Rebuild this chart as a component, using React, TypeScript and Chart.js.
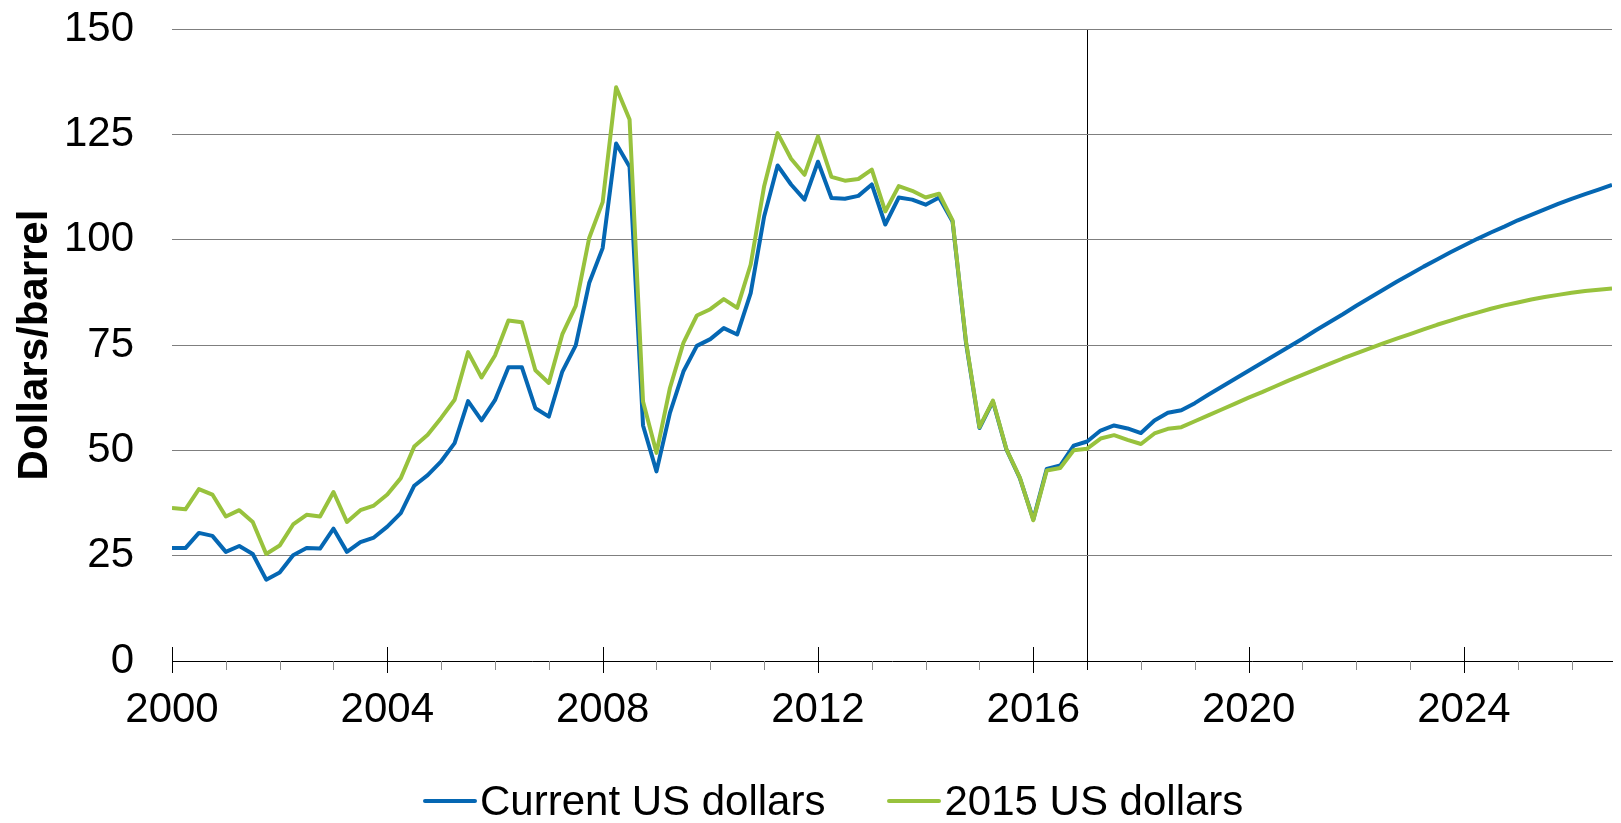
import React, { useEffect, useRef } from "react";
import { Chart, registerables } from "chart.js";

Chart.register(...registerables);

const FONT = '"Liberation Sans", Arial, Helvetica, sans-serif';

// Quarterly categories 2000 Q1 .. 2026 Q4
const firstYear = 2000;
const lastYear = 2026;
const categories: string[] = [];
for (let y = firstYear; y <= lastYear; y++) {
  for (let q = 1; q <= 4; q++) categories.push(`${y} Q${q}`);
}

// Crude oil price, current US dollars / barrel (quarterly)
const currentUSD: number[] = [
  26.8, 26.8, 30.4, 29.7, // 2000
  25.9, 27.3, 25.4, 19.3, // 2001
  21.0, 25.1, 26.8, 26.7, // 2002
  31.4, 25.9, 28.2, 29.3, // 2003
  31.9, 35.1, 41.6, 44.1, // 2004
  47.4, 51.7, 61.7, 57.1, // 2005
  61.9, 69.7, 69.7, 60.0, // 2006
  58.0, 68.7, 74.9, 89.7, // 2007
  98.0, 122.8, 117.3, 55.9, // 2008
  45.0, 58.9, 68.7, 74.8, // 2009
  76.4, 79.0, 77.5, 87.3, // 2010
  105.5, 117.6, 113.1, 109.5, // 2011
  118.5, 109.9, 109.7, 110.4, // 2012
  113.1, 103.6, 110.0, 109.5, // 2013
  108.3, 110.0, 104.3, 75.5, // 2014
  55.3, 61.6, 50.2, 43.4, // 2015
  33.6, 45.6, 46.4, 51.1, // 2016
  52.1, 54.7, 55.9, 55.2, // 2017
  54.1, 57.1, 58.9, 59.5, // 2018
  61.2, 63.2, 65.1, 67.0, // 2019
  68.9, 70.8, 72.7, 74.6, // 2020
  76.5, 78.5, 80.4, 82.3, // 2021
  84.3, 86.2, 88.1, 90.0, // 2022
  91.8, 93.6, 95.3, 97.0, // 2023
  98.6, 100.2, 101.7, 103.1, // 2024
  104.6, 105.9, 107.2, 108.5, // 2025
  109.7, 110.8, 111.9, 113.0, // 2026
];

// Crude oil price, constant 2015 US dollars / barrel (quarterly)
const constant2015USD: number[] = [
  36.3, 36.0, 40.8, 39.5, // 2000
  34.3, 35.8, 33.0, 25.4, // 2001
  27.4, 32.4, 34.7, 34.3, // 2002
  40.1, 33.0, 35.8, 36.9, // 2003
  39.5, 43.4, 50.9, 53.7, // 2004
  57.7, 62.0, 73.3, 67.3, // 2005
  72.5, 80.8, 80.4, 69.0, // 2006
  66.0, 77.5, 84.3, 100.4, // 2007
  108.9, 136.2, 128.5, 61.6, // 2008
  49.4, 64.8, 75.5, 82.0, // 2009
  83.5, 85.9, 83.8, 94.1, // 2010
  112.7, 125.3, 119.2, 115.4, // 2011
  124.5, 114.9, 114.0, 114.4, // 2012
  116.6, 106.7, 112.7, 111.6, // 2013
  110.0, 110.9, 104.6, 75.8, // 2014
  55.5, 61.8, 50.3, 43.5, // 2015
  33.4, 45.2, 45.8, 50.0, // 2016
  50.4, 52.8, 53.6, 52.5, // 2017
  51.5, 54.0, 55.1, 55.5, // 2018
  56.9, 58.3, 59.7, 61.1, // 2019
  62.5, 63.8, 65.2, 66.6, // 2020
  67.9, 69.2, 70.5, 71.8, // 2021
  73.0, 74.2, 75.4, 76.5, // 2022
  77.6, 78.7, 79.8, 80.8, // 2023
  81.8, 82.7, 83.6, 84.4, // 2024
  85.1, 85.8, 86.4, 86.9, // 2025
  87.4, 87.8, 88.1, 88.4, // 2026
];

const yTickValues = [0, 25, 50, 75, 100, 125, 150];
const xLabelYears = [2000, 2004, 2008, 2012, 2016, 2020, 2024];
const forecastStartYear = 2017;
const seriesNames = ["Current US dollars", "2015 US dollars"];
const seriesColors = ["#0567b3", "#98c23d"];
const yAxisTitle = "Dollars/barrel";

function categoryToX(label: string): number {
  const [y, q] = label.split(" Q");
  return Number(y) + (Number(q) - 1) / 4;
}

const tickMarksPlugin = {
  id: "tickMarks",
  afterDraw(chart: any) {
    const s = chart.scales.x;
    const ctx = chart.ctx;
    const y0 = Math.round(s.top);
    ctx.save();
    ctx.lineWidth = 1;
    s.ticks.forEach((t: any) => {
      const v = t.value;
      const px = Math.round(s.getPixelForValue(v)) + 0.5;
      let top = y0;
      let bottom = y0 + 9;
      let color = "#8c8c8c";
      if (xLabelYears.includes(v)) {
        top = y0 - 14;
        bottom = y0 + 12;
        color = "#000000";
      } else if (v === forecastStartYear) {
        color = "#000000";
      }
      ctx.strokeStyle = color;
      ctx.beginPath();
      ctx.moveTo(px, top);
      ctx.lineTo(px, bottom);
      ctx.stroke();
    });
    ctx.restore();
  },
};

export default function App() {
  const canvasRef = useRef<HTMLCanvasElement | null>(null);

  useEffect(() => {
    if (!canvasRef.current) return;
    const series = [currentUSD, constant2015USD];
    const chart = new Chart(canvasRef.current, {
      type: "line",
      data: {
        datasets: series.map((vals, i) => ({
          label: seriesNames[i],
          data: categories.map((c, k) => ({ x: categoryToX(c), y: vals[k] })),
          borderColor: seriesColors[i],
          backgroundColor: seriesColors[i],
          borderWidth: 4,
          pointRadius: 0,
          pointHoverRadius: 0,
          tension: 0,
          fill: false,
          borderJoinStyle: "round",
          order: i === 0 ? 1 : 0,
        })),
      },
      options: {
        responsive: false,
        animation: false,
        devicePixelRatio: 1,
        layout: { padding: { left: 0, top: 29, right: 9, bottom: 0 } },
        plugins: {
          legend: { display: false },
          tooltip: { enabled: false },
        },
        scales: {
          x: {
            type: "linear",
            min: 2000,
            max: 2026.75,
            afterFit: (s: any) => {
              s.height = 162;
              s.paddingLeft = 0;
              s.paddingRight = 0;
            },
            border: { display: true, color: "#000000", width: 1 },
            grid: {
              drawTicks: false,
              lineWidth: 1,
              color: (ctx: any) =>
                ctx.tick && ctx.tick.value === forecastStartYear ? "#000000" : "rgba(0,0,0,0)",
            },
            ticks: {
              stepSize: 1,
              includeBounds: false,
              autoSkip: false,
              maxRotation: 0,
              minRotation: 0,
              padding: 24,
              color: "#000000",
              font: { family: FONT, size: 42 },
              callback: (v: any) => (xLabelYears.includes(Number(v)) ? String(v) : ""),
            },
          },
          y: {
            min: 0,
            max: 150,
            afterFit: (s: any) => {
              s.width = 172;
              s.paddingTop = 0;
              s.paddingBottom = 0;
            },
            border: { display: false },
            grid: {
              drawTicks: false,
              lineWidth: 1,
              color: (ctx: any) =>
                ctx.tick && ctx.tick.value === 0 ? "rgba(0,0,0,0)" : "#7f7f7f",
            },
            ticks: {
              stepSize: 25,
              padding: 38,
              color: "#000000",
              font: { family: FONT, size: 42 },
              callback: (v: any) => (yTickValues.includes(Number(v)) ? String(v) : ""),
            },
            title: {
              display: true,
              text: yAxisTitle,
              color: "#000000",
              font: { family: FONT, size: 42, weight: "bold" },
              padding: { top: 10, bottom: 0 },
            },
          },
        },
      },
      plugins: [tickMarksPlugin],
    } as any);
    return () => chart.destroy();
  }, []);

  return (
    <>
      <canvas
        ref={canvasRef}
        width={1621}
        height={823}
        style={{ position: "absolute", left: 0, top: 0, width: 1621, height: 823, display: "block" }}
      />
      <div
        style={{
          position: "absolute",
          left: 423,
          top: 780,
          display: "flex",
          alignItems: "center",
          fontFamily: FONT,
          fontSize: 42,
          lineHeight: "42px",
          color: "#000000",
          whiteSpace: "nowrap",
        }}
      >
        {seriesNames.map((name, i) => (
          <div
            key={name}
            style={{ display: "flex", alignItems: "center", marginRight: i === 0 ? 62 : 0 }}
          >
            <span
              style={{
                display: "inline-block",
                width: 54,
                height: 4,
                background: seriesColors[i],
                borderRadius: 2,
                marginRight: 3,
              }}
            />
            <span>{name}</span>
          </div>
        ))}
      </div>
    </>
  );
}
